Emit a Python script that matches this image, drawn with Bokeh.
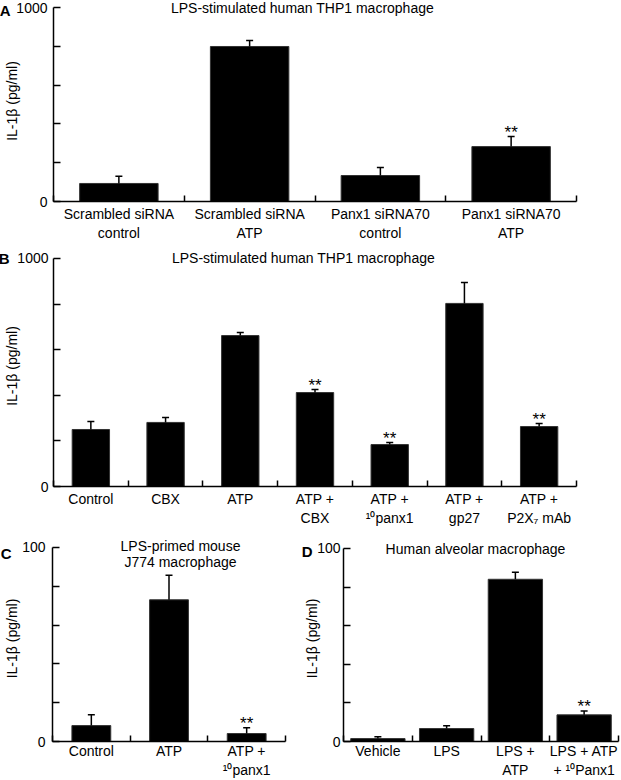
from bokeh.plotting import figure
from bokeh.models import Range1d, FixedTicker, Label, ColumnDataSource, LinearAxis
from bokeh.layouts import column, row
from bokeh.core.properties import value
from bokeh.embed import file_html
from bokeh.resources import INLINE

FONT = "Liberation Sans"

# ---------------- data ----------------
# Panel A
a_labels = ["Scrambled siRNA\ncontrol", "Scrambled siRNA\nATP",
            "Panx1 siRNA70\ncontrol", "Panx1 siRNA70\nATP"]
a_means = [93, 799, 134, 283]
a_errs = [37, 31, 41, 52]
a_sig = ["", "", "", "**"]

# Panel B
b_labels = ["Control", "CBX", "ATP", "ATP +\nCBX", "ATP +\n\u00b9\u2070panx1",
            "ATP +\ngp27", "ATP +\nP2X\u2087 mAb"]
b_means = [250, 281, 662, 412, 184, 803, 263]
b_errs = [35, 22, 13, 13, 9, 92, 13]
b_sig = ["", "", "", "**", "**", "", "**"]

# Panel C
c_labels = ["Control", "ATP", "ATP +\n\u00b9\u2070panx1"]
c_means = [8.2, 73.0, 4.1]
c_errs = [5.6, 12.7, 3.0]
c_sig = ["", "", "**"]

# Panel D
d_labels = ["Vehicle", "LPS", "LPS +\nATP", "LPS + ATP\n+ \u00b9\u2070Panx1"]
d_means = [1.5, 6.7, 84.0, 13.8]
d_errs = [1.0, 1.5, 3.7, 2.0]
d_sig = ["", "", "", "**"]

YLABEL = "IL-1\u03b2 (pg/ml)"


def make_panel(labels, means, errs, sig, ymax, ystep, yend, width, height,
               borders, bar_w, letter, letter_y, s1, s2, s3,
               titles, x_standoff):
    left, right, top, bottom = borders
    n = len(labels)
    xs = list(range(1, n + 1))
    p = figure(width=width, height=height, output_backend="svg",
               toolbar_location=None,
               x_range=Range1d(0.5, n + 0.5), y_range=Range1d(0, yend),
               min_border_left=left, min_border_right=right,
               min_border_top=top, min_border_bottom=bottom)
    p.outline_line_color = None
    p.xgrid.visible = False
    p.ygrid.visible = False
    p.background_fill_color = "white"
    p.border_fill_color = "white"

    src = ColumnDataSource(dict(
        x=xs, top=means,
        err=[m + e for m, e in zip(means, errs)],
        sig=sig))
    p.vbar(x="x", top="top", bottom=0, width=bar_w, fill_color="black",
           line_color="#333333", line_width=1, source=src)
    p.segment(x0="x", y0="top", x1="x", y1="err", line_color="black",
              line_width=1.5, source=src)
    p.scatter(x="x", y="err", marker="dash", size=7, line_color="black",
              line_width=1.5, source=src)
    p.text(x="x", y="err", text="sig", text_align="center",
           text_baseline="alphabetic", text_font=value(FONT),
           text_font_size="17px", y_offset=-4, text_color="black", source=src)

    # x axis: labels at category centres, ticks at category boundaries
    xa = p.xaxis[0]
    xa.ticker = FixedTicker(ticks=xs, minor_ticks=[i + 0.5 for i in range(n + 1)])
    xa.major_label_overrides = {x: lab for x, lab in zip(xs, labels)}
    xa.major_tick_in = 0
    xa.major_tick_out = 0
    xa.minor_tick_in = 6
    xa.minor_tick_out = 0
    xa.minor_tick_line_color = "black"
    xa.minor_tick_line_width = 1.5
    xa.axis_line_width = 1.5
    xa.axis_line_color = "black"
    xa.major_label_text_font = FONT
    xa.major_label_text_font_size = "14px"
    xa.major_label_text_color = "black"
    xa.major_label_standoff = x_standoff

    # y axis: inward ticks, labels only at 0 and max
    ya = p.yaxis[0]
    ya.bounds = (0, ymax)
    ya.ticker = FixedTicker(ticks=[0, ymax],
                            minor_ticks=[ystep * k for k in range(1, int(round(ymax / ystep)))])
    ya.major_tick_in = 7
    ya.major_tick_out = 0
    ya.minor_tick_in = 7
    ya.minor_tick_out = 0
    ya.major_tick_line_width = 1.5
    ya.minor_tick_line_width = 1.5
    ya.minor_tick_line_color = "black"
    ya.major_tick_line_color = "black"
    ya.axis_line_width = 1.5
    ya.axis_line_color = "black"
    ya.major_label_text_font = FONT
    ya.major_label_text_font_size = "14px"
    ya.major_label_text_color = "black"
    ya.major_label_standoff = s1

    # outer left axis: carries the panel letter and the y-axis title
    ax2 = LinearAxis(ticker=FixedTicker(ticks=[letter_y]),
                     major_label_overrides={letter_y: letter},
                     axis_line_color=None,
                     major_tick_line_color=None, minor_tick_line_color=None,
                     major_tick_in=0, major_tick_out=0,
                     minor_tick_in=0, minor_tick_out=0,
                     major_label_standoff=s2,
                     major_label_text_font=FONT,
                     major_label_text_font_size="15px",
                     major_label_text_font_style="bold",
                     major_label_text_color="black",
                     axis_label=YLABEL, axis_label_standoff=s3,
                     axis_label_text_font=FONT,
                     axis_label_text_font_size="14px",
                     axis_label_text_font_style="normal",
                     axis_label_text_color="black")
    p.add_layout(ax2, "left")

    # titles (inside the frame, above the data)
    for tx, ty, tt in titles:
        p.add_layout(Label(x=tx, x_units="screen", y=ty, y_units="data",
                           text=tt, text_font=FONT, text_font_size="14px",
                           text_align="center", text_baseline="middle",
                           text_color="black"))
    return p


pA = make_panel(a_labels, a_means, a_errs, a_sig, 1000, 200, 1036.1,
                621, 245, (53, 45, 0, 44), 0.6, "A", 1000, 6, 3, -23,
                [(249, 1000, "LPS-stimulated human THP1 macrophage")], 4)

pB = make_panel(b_labels, b_means, b_errs, b_sig, 1000, 200, 1057.0,
                621, 290, (53, 26, 0, 49), 0.5, "B", 1000, 5, 5, -24,
                [(250, 1000, "LPS-stimulated human THP1 macrophage")], 4)

pC = make_panel(c_labels, c_means, c_errs, c_sig, 100, 20, 106.12,
                300, 245, (52, 15, 0, 37), 0.5, "C", 96.9, 7, 8, -22,
                [(128, 100.5, "LPS-primed mouse"), (128, 92.3, "J774 macrophage")], 1)

pD = make_panel(d_labels, d_means, d_errs, d_sig, 100, 20, 106.67,
                321, 245, (43, 3, 0, 37), 0.79, "D", 98.5, 3, 2, -21,
                [(132, 99.5, "Human alveolar macrophage")], 1)

layout = column(pA, pB, row(pC, pD))
open("out.html", "w").write(file_html(layout, INLINE))
